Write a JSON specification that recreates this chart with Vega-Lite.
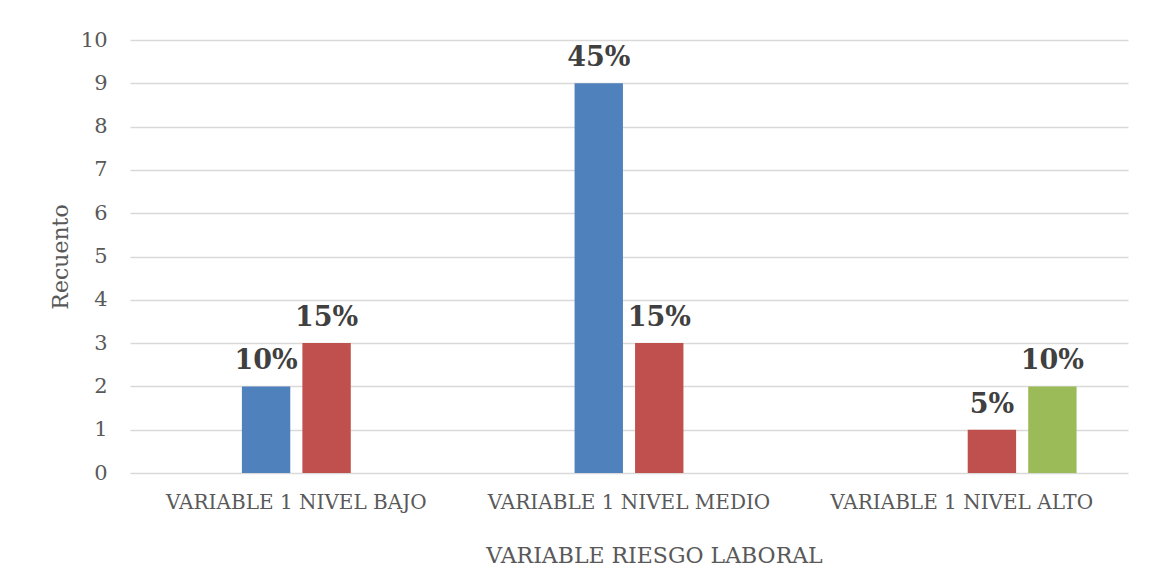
{
  "$schema": "https://vega.github.io/schema/vega-lite/v6.json",
  "autosize": "none",
  "width": 998,
  "height": 433,
  "padding": {"left": 130, "top": 40, "right": 23, "bottom": 108},
  "background": "white",
  "config": {
    "view": {"stroke": null},
    "font": "DejaVu Serif"
  },
  "data": {
    "values": [
      {"nivel": "VARIABLE 1  NIVEL BAJO", "serie": "Serie 2", "recuento": 2, "pct": "10%"},
      {"nivel": "VARIABLE 1  NIVEL BAJO", "serie": "Serie 3", "recuento": 3, "pct": "15%"},
      {"nivel": "VARIABLE 1 NIVEL MEDIO", "serie": "Serie 2", "recuento": 9, "pct": "45%"},
      {"nivel": "VARIABLE 1 NIVEL MEDIO", "serie": "Serie 3", "recuento": 3, "pct": "15%"},
      {"nivel": "VARIABLE 1  NIVEL ALTO", "serie": "Serie 3", "recuento": 1, "pct": "5%"},
      {"nivel": "VARIABLE 1  NIVEL ALTO", "serie": "Serie 4", "recuento": 2, "pct": "10%"}
    ]
  },
  "encoding": {
    "x": {
      "field": "nivel",
      "type": "nominal",
      "sort": ["VARIABLE 1  NIVEL BAJO", "VARIABLE 1 NIVEL MEDIO", "VARIABLE 1  NIVEL ALTO"],
      "scale": {"paddingInner": 0, "paddingOuter": 0},
      "axis": {
        "title": "VARIABLE RIESGO LABORAL",
        "labelAngle": 0,
        "labelFontSize": 20,
        "labelLimit": 500,
        "labelColor": "#595959",
        "labelPadding": 19,
        "labelFont": "DejaVu Serif",
        "domain": false,
        "ticks": false,
        "grid": false,
        "titleFontSize": 22,
        "titleFontWeight": "normal",
        "titleColor": "#595959",
        "titleFont": "DejaVu Serif",
        "titlePadding": 33,
        "titleX": 524
      }
    },
    "xOffset": {
      "field": "serie",
      "type": "nominal",
      "scale": {"domain": ["Serie 1", "Serie 2", "Serie 3", "Serie 4"], "paddingInner": 0.2, "paddingOuter": 0.85}
    },
    "y": {
      "field": "recuento",
      "type": "quantitative",
      "scale": {"domain": [0, 10], "nice": false},
      "axis": {
        "title": "Recuento",
        "values": [0, 1, 2, 3, 4, 5, 6, 7, 8, 9, 10],
        "labelFontSize": 21,
        "labelColor": "#595959",
        "labelPadding": 23,
        "labelFont": "DejaVu Serif",
        "domain": false,
        "ticks": false,
        "grid": true,
        "gridColor": "#D9D9D9",
        "gridWidth": 1.5,
        "titleFontSize": 22,
        "titleFontWeight": "normal",
        "titleColor": "#595959",
        "titleFont": "DejaVu Serif",
        "titlePadding": 8
      }
    }
  },
  "layer": [
    {
      "mark": {"type": "bar"},
      "encoding": {
        "color": {
          "field": "serie",
          "type": "nominal",
          "scale": {"domain": ["Serie 2", "Serie 3", "Serie 4"], "range": ["#4F81BD", "#C0504D", "#9BBB59"]},
          "legend": null
        }
      }
    },
    {
      "mark": {"type": "text", "baseline": "alphabetic", "dy": -17, "fontSize": 27, "fontWeight": "bold", "font": "DejaVu Serif", "color": "#404040"},
      "encoding": {
        "text": {"field": "pct", "type": "nominal"}
      }
    }
  ]
}
